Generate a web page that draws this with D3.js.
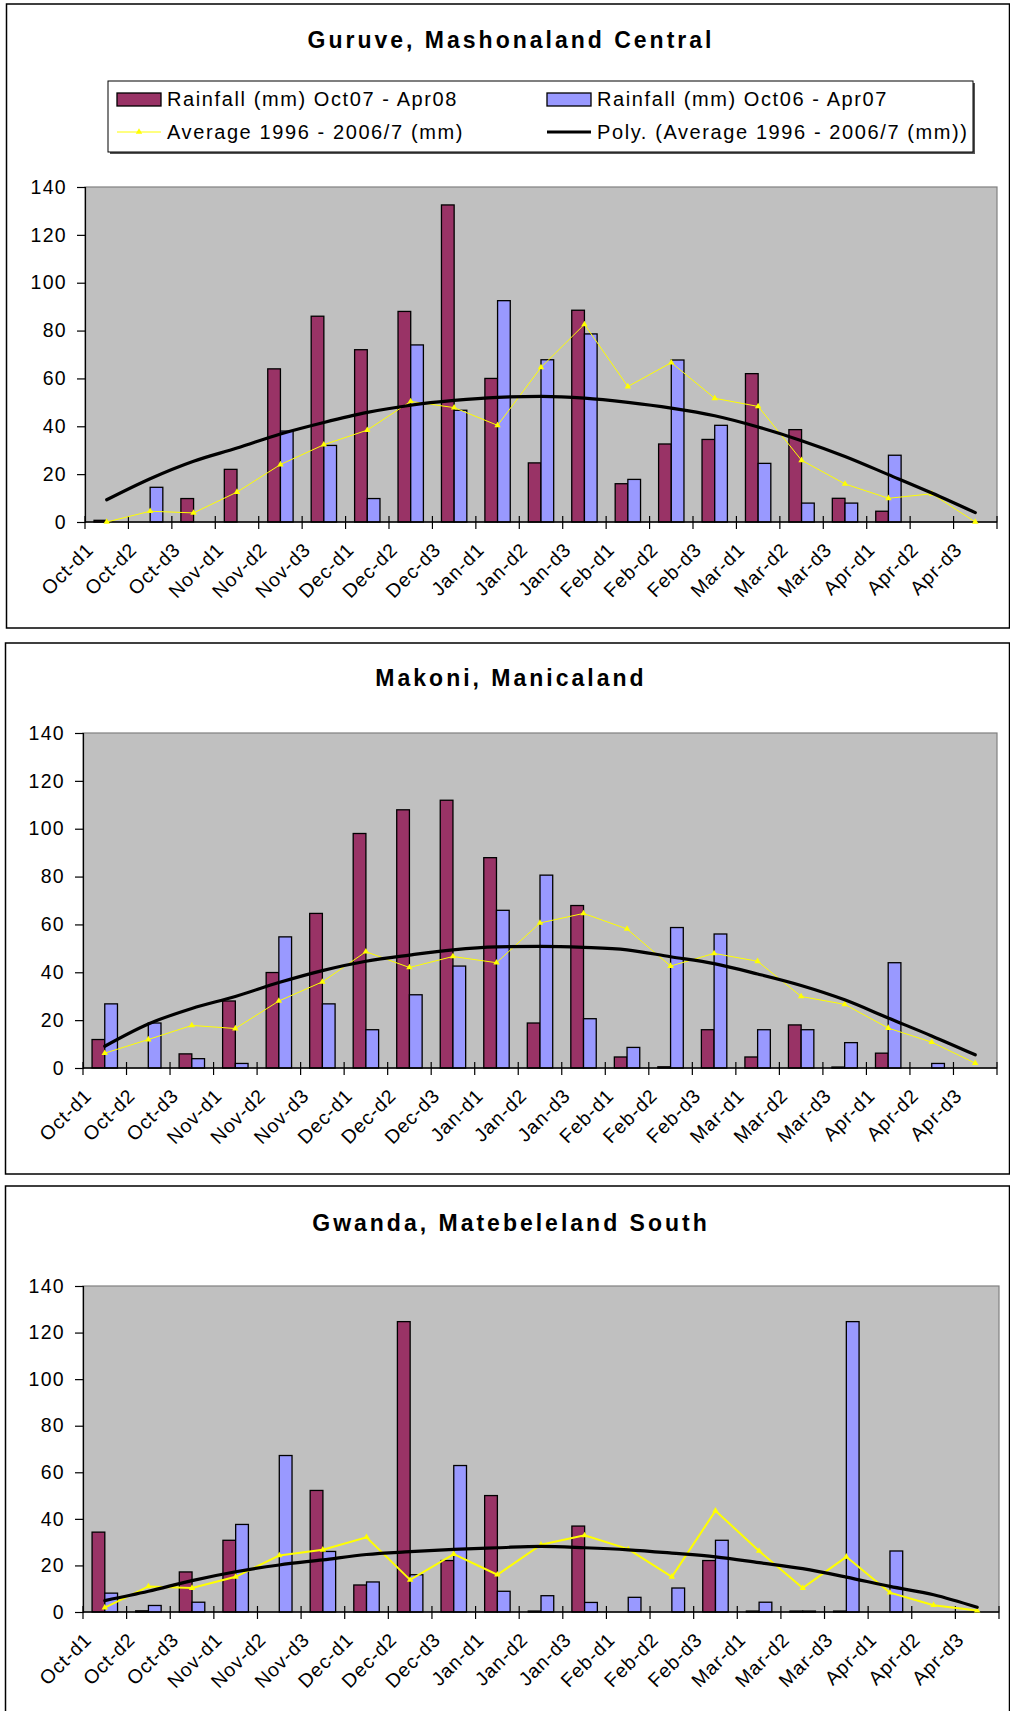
<!DOCTYPE html>
<html>
<head>
<meta charset="utf-8">
<script src="https://cdn.jsdelivr.net/npm/d3@7"></script>
<style>
  body { margin: 0; background: #fff; }
  svg text { font-family: "Liberation Sans", Arial, sans-serif; fill: #000; }
</style>
</head>
<body>
<svg id="chart" width="1010" height="1711"></svg>
<script>
// dekads on the x axis
const categories = ["Oct-d1", "Oct-d2", "Oct-d3", "Nov-d1", "Nov-d2", "Nov-d3",
  "Dec-d1", "Dec-d2", "Dec-d3", "Jan-d1", "Jan-d2", "Jan-d3", "Feb-d1", "Feb-d2",
  "Feb-d3", "Mar-d1", "Mar-d2", "Mar-d3", "Apr-d1", "Apr-d2", "Apr-d3"];
const yTicks = [0, 20, 40, 60, 80, 100, 120, 140];

const seriesNames = ["Rainfall (mm) Oct07 - Apr08", "Rainfall (mm) Oct06 - Apr07",
  "Average 1996 - 2006/7 (mm)", "Poly. (Average 1996 - 2006/7 (mm))"];

// Guruve, Mashonaland Central
const guruve0708 = [0.7, 0, 9.8, 22, 64, 86, 72, 88, 132.5, 60, 24.7, 88.5, 16, 32.6, 34.5, 62, 38.6, 9.9, 4.5, 0, 0];
const guruve0607 = [0, 14.5, 0, 0, 38, 32, 9.8, 74, 46.7, 92.5, 67.8, 78.6, 17.8, 67.7, 40.4, 24.5, 7.9, 7.9, 27.9, 0, 0];
const guruveAvg = [0, 4.5, 3.8, 12.5, 24, 32.3, 38.4, 50.4, 47.8, 40.4, 64.6, 82.6, 56.6, 66.6, 51.7, 48.3, 25.8, 15.9, 9.9, 11.8, 0];
const guruveTrend = [9.3, 18.1, 25.4, 30.9, 36.8, 41.6, 45.8, 48.8, 50.8, 52.1, 52.5, 51.8, 50, 47.6, 44.4, 39.7, 34, 27.4, 19.8, 12.1, 3.9];

// Makoni, Manicaland
const makoni0708 = [11.9, 0, 5.9, 28, 39.9, 64.6, 98, 107.9, 111.9, 87.9, 18.8, 67.9, 4.6, 0.5, 16, 4.6, 18, 0.4, 6.2, 0, 0];
const makoni0607 = [26.8, 18.8, 3.9, 1.9, 54.8, 26.8, 16, 30.6, 42.6, 65.9, 80.6, 20.6, 8.6, 58.7, 56, 16, 16, 10.6, 44, 1.9, 0];
const makoniAvg = [6.2, 11.9, 17.8, 16.5, 28, 36, 48.6, 42, 46.6, 44, 60.6, 64.6, 58.1, 42.6, 47.9, 44.6, 29.9, 26.6, 16.7, 10.8, 2];
const makoniTrend = [9.1, 18.4, 24.9, 29.9, 35.7, 40.7, 44.6, 47.2, 49.4, 50.6, 50.8, 50.4, 49.4, 46.5, 43.6, 39.3, 34.5, 28.5, 20.9, 13.4, 5.5];

// Gwanda, Matebeleland South
const gwanda0708 = [34.3, 0.5, 17.2, 30.8, 0, 52.2, 11.6, 124.7, 22.1, 50, 0.4, 36.9, 0, 0, 22.1, 0.4, 0.4, 0.4, 0, 0, 0];
const gwanda0607 = [8.1, 2.8, 4.2, 37.6, 67.2, 26, 12.9, 16, 62.9, 8.9, 7, 4.1, 6.3, 10.3, 30.8, 4.2, 0.4, 124.7, 26.2, 0, 0];
const gwandaAvg = [1.9, 11, 10.3, 15.1, 24.3, 26.7, 32.1, 13.8, 24.9, 16, 28.9, 32.9, 27, 15.1, 43.5, 26.2, 10.3, 23.7, 8.3, 2.9, 0.6];
const gwandaTrend = [4.9, 8.9, 13.5, 17.3, 20.2, 22.4, 24.7, 25.9, 26.9, 27.6, 28.2, 27.6, 26.7, 25.3, 23.7, 21.2, 18.6, 15, 11, 7.4, 2];

const colors = { r07: "#993366", r06: "#9999ff", avg: "#ffff00", trend: "#000" };

const svg = d3.select("#chart");

function drawChart(cfg) {
  const g = svg.append("g");
  const p = cfg.plot;

  // outer frame + title
  g.append("rect")
    .attr("x", cfg.box.x).attr("y", cfg.box.y)
    .attr("width", cfg.box.w).attr("height", cfg.box.h)
    .attr("fill", "#fff").attr("stroke", "#000").attr("stroke-width", 1.5);

  g.append("text")
    .attr("x", 511).attr("y", cfg.titleY)
    .attr("text-anchor", "middle")
    .attr("font-size", 23).attr("font-weight", "bold")
    .style("letter-spacing", "3px")
    .text(cfg.title);

  // scales
  const x = d3.scaleBand().domain(categories).range([p.left, p.right]);
  const y = d3.scaleLinear().domain([0, 140]).range([p.bottom, p.top]);
  const barW = x.bandwidth() * 0.292;
  const x1 = d3.scaleBand().domain(["r07", "r06"])
    .range([x.bandwidth() / 2 - barW, x.bandwidth() / 2 + barW]);

  // plot area
  g.append("rect")
    .attr("x", p.left).attr("y", p.top)
    .attr("width", p.right - p.left).attr("height", p.bottom - p.top)
    .attr("fill", "#c0c0c0").attr("stroke", "#808080").attr("stroke-width", 1.2);

  // bars
  const rows = categories.map((c, i) => ({ cat: c, r07: cfg.r07[i], r06: cfg.r06[i] }));
  g.append("g").selectAll("g")
    .data(rows)
    .join("g")
      .attr("transform", d => `translate(${x(d.cat)},0)`)
    .selectAll("rect")
    .data(d => ["r07", "r06"].map(k => ({ k, v: d[k] })).filter(e => e.v > 0))
    .join("rect")
      .attr("x", e => x1(e.k))
      .attr("width", x1.bandwidth())
      .attr("y", e => y(e.v))
      .attr("height", e => y(0) - y(e.v))
      .attr("fill", e => colors[e.k])
      .attr("stroke", "#000")
      .attr("stroke-width", 1.3);

  // y axis
  const yAxis = d3.axisLeft(y).tickValues(yTicks).tickSize(8).tickPadding(10);
  const yG = g.append("g")
    .attr("transform", `translate(${p.left},0)`)
    .call(yAxis);
  yG.select(".domain").attr("stroke", "#000").attr("stroke-width", 1.2);
  yG.selectAll(".tick line").attr("stroke", "#000").attr("stroke-width", 1.2);
  yG.selectAll(".tick text")
    .attr("font-size", 19.5)
    .attr("font-family", "Liberation Sans, Arial, sans-serif")
    .style("letter-spacing", "1.3px")
    .attr("fill", "#000");

  // x axis: line, boundary ticks and rotated labels
  const xG = g.append("g");
  xG.append("line")
    .attr("x1", p.left).attr("x2", p.right)
    .attr("y1", y(0)).attr("y2", y(0))
    .attr("stroke", "#000").attr("stroke-width", 1.3);
  const bounds = categories.map(c => x(c)).concat([p.right]);
  xG.selectAll("line.tick")
    .data(bounds)
    .join("line")
      .attr("class", "tick")
      .attr("x1", d => d).attr("x2", d => d)
      .attr("y1", y(0) - 6).attr("y2", y(0) + 7)
      .attr("stroke", "#000").attr("stroke-width", 1.2);
  xG.selectAll("text")
    .data(categories)
    .join("text")
      .attr("transform", d => `translate(${x(d) + x.bandwidth() / 2 - 12},${y(0) + 29}) rotate(-45)`)
      .attr("text-anchor", "end")
      .attr("font-size", 19.5)
      .style("letter-spacing", "0.9px")
      .text(d => d);

  // average line with triangle markers
  const line = d3.line()
    .x((d, i) => x(categories[i]) + x.bandwidth() / 2)
    .y(d => y(d));
  g.append("path")
    .datum(cfg.avg)
    .attr("fill", "none")
    .attr("stroke", colors.avg)
    .attr("stroke-width", cfg.avgWidth)
    .attr("d", line);
  g.append("g").selectAll("path")
    .data(cfg.avg)
    .join("path")
      .attr("transform", (d, i) => `translate(${x(categories[i]) + x.bandwidth() / 2},${y(d)})`)
      .attr("d", d3.symbol(d3.symbolTriangle, 18))
      .attr("fill", colors.avg);

  // polynomial trend
  g.append("path")
    .datum(cfg.trend)
    .attr("fill", "none")
    .attr("stroke", colors.trend)
    .attr("stroke-width", 3.2)
    .attr("stroke-linecap", "round")
    .attr("d", line.curve(d3.curveMonotoneX));

  if (cfg.legend) drawLegend(g, cfg.legend);
}

function drawLegend(g, L) {
  // shadow then box
  g.append("rect")
    .attr("x", L.x + 2).attr("y", L.y + 2).attr("width", L.w).attr("height", L.h)
    .attr("fill", "#555");
  g.append("rect")
    .attr("x", L.x).attr("y", L.y).attr("width", L.w).attr("height", L.h)
    .attr("fill", "#fff").attr("stroke", "#000").attr("stroke-width", 1);

  const cols = [L.x + 9, L.x + 439];
  const rowsY = [L.y + 18, L.y + 51];
  const items = [
    { name: seriesNames[0], type: "bar", color: colors.r07, col: 0, row: 0 },
    { name: seriesNames[1], type: "bar", color: colors.r06, col: 1, row: 0 },
    { name: seriesNames[2], type: "avg", color: colors.avg, col: 0, row: 1 },
    { name: seriesNames[3], type: "trend", color: colors.trend, col: 1, row: 1 }
  ];
  const it = g.append("g").selectAll("g")
    .data(items)
    .join("g")
      .attr("transform", d => `translate(${cols[d.col]},${rowsY[d.row]})`);

  it.filter(d => d.type === "bar").append("rect")
    .attr("x", 0).attr("y", -6).attr("width", 44).attr("height", 13)
    .attr("fill", d => d.color).attr("stroke", "#000").attr("stroke-width", 1.3);
  it.filter(d => d.type !== "bar").append("line")
    .attr("x1", 0).attr("x2", 44).attr("y1", 0).attr("y2", 0)
    .attr("stroke", d => d.color)
    .attr("stroke-width", d => d.type === "trend" ? 3 : 1);
  it.filter(d => d.type === "avg").append("path")
    .attr("transform", "translate(22,0)")
    .attr("d", d3.symbol(d3.symbolTriangle, 18))
    .attr("fill", colors.avg);
  it.append("text")
    .attr("x", 50).attr("y", 7)
    .attr("font-size", 20)
    .style("letter-spacing", "1.6px")
    .text(d => d.name);
}

drawChart({
  title: "Guruve, Mashonaland Central",
  box: { x: 6.5, y: 4, w: 1003, h: 624 },
  titleY: 48,
  plot: { left: 85, right: 997, top: 187, bottom: 522 },
  r07: guruve0708, r06: guruve0607, avg: guruveAvg, trend: guruveTrend,
  avgWidth: 1,
  legend: { x: 108, y: 81, w: 865, h: 71 }
});

drawChart({
  title: "Makoni, Manicaland",
  box: { x: 5.5, y: 643, w: 1004, h: 531 },
  titleY: 686,
  plot: { left: 83, right: 997, top: 733, bottom: 1068 },
  r07: makoni0708, r06: makoni0607, avg: makoniAvg, trend: makoniTrend,
  avgWidth: 1
});

drawChart({
  title: "Gwanda, Matebeleland South",
  box: { x: 5.5, y: 1186, w: 1004, h: 600 },
  titleY: 1231,
  plot: { left: 83, right: 999, top: 1286, bottom: 1612 },
  r07: gwanda0708, r06: gwanda0607, avg: gwandaAvg, trend: gwandaTrend,
  avgWidth: 2
});
</script>
</body>
</html>
